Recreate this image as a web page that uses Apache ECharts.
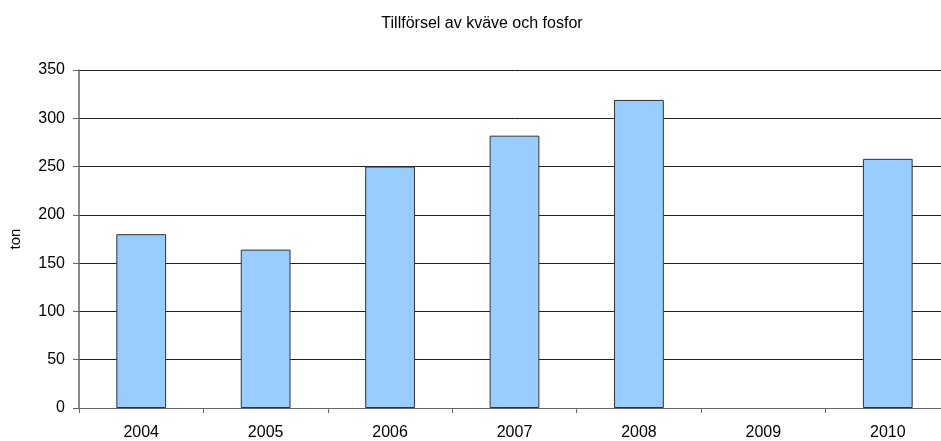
<!DOCTYPE html>
<html>
<head>
<meta charset="utf-8">
<script src="https://cdn.jsdelivr.net/npm/echarts@6/dist/echarts.min.js"></script>
<style>
  html, body { margin: 0; padding: 0; background: #fff; overflow: hidden; }
  #chart { width: 952px; height: 441px; }
</style>
</head>
<body>
<div id="chart"></div>
<script>
// år och tillförsel (ton), 2009 saknas
const years = ['2004', '2005', '2006', '2007', '2008', '2009', '2010']
const tons = [180, 164, 250, 282, 319, null, 258]
const yTicks = { min: 0, max: 350, step: 50 }

const chart = echarts.init(document.getElementById('chart'))

const option = {
  animation: false,
  title: {
    text: 'Tillförsel av kväve och fosfor',
    left: 477,
    textAlign: 'center',
    top: 11,
    textStyle: {
      fontFamily: 'Liberation Sans, Arial',
      fontSize: 16,
      fontWeight: 'normal',
      color: '#000'
    }
  },
  grid: {
    left: 79,
    right: 2,
    top: 70,
    bottom: 33,
    outerBoundsMode: 'none'
  },
  xAxis: {
    type: 'category',
    data: years,
    axisLine: { lineStyle: { color: '#666', width: 1 } },
    axisTick: { show: true, length: 5, lineStyle: { color: '#666' } },
    axisLabel: {
      margin: 17,
      fontFamily: 'Liberation Sans, Arial',
      fontSize: 16,
      color: '#000'
    },
    splitLine: { show: false }
  },
  yAxis: {
    type: 'value',
    min: yTicks.min,
    max: yTicks.max,
    interval: yTicks.step,
    name: 'ton',
    nameLocation: 'middle',
    nameGap: 56,
    nameTextStyle: {
      fontFamily: 'Liberation Sans, Arial',
      fontSize: 15,
      color: '#000'
    },
    axisLine: { show: true, lineStyle: { color: '#666', width: 1.5 } },
    axisTick: { show: true, length: 6, lineStyle: { color: '#666' } },
    axisLabel: {
      margin: 14,
      fontFamily: 'Liberation Sans, Arial',
      fontSize: 16,
      color: '#000'
    },
    splitLine: { show: true, lineStyle: { color: '#222', width: 1 } }
  },
  series: [
    {
      type: 'bar',
      data: tons,
      barCategoryGap: '60%',
      itemStyle: {
        color: '#99ccff',
        borderColor: '#333',
        borderWidth: 1
      }
    }
  ]
}

chart.setOption(option)
</script>
</body>
</html>
